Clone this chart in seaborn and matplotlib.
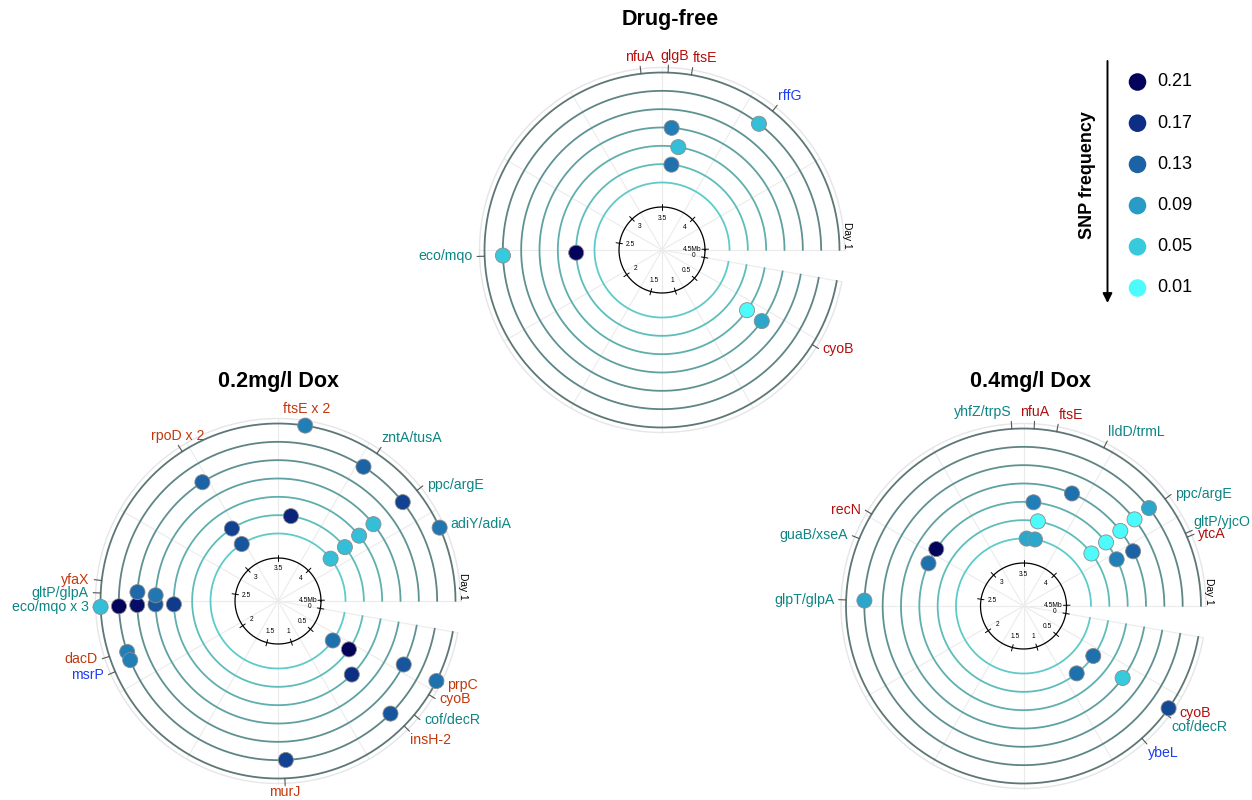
import numpy as np
import matplotlib
matplotlib.use("Agg")
import matplotlib.pyplot as plt
from matplotlib.colors import LinearSegmentedColormap, to_rgb
import seaborn as sns

sns.set_theme(style="white")
plt.rcParams["font.family"] = ["Liberation Sans", "DejaVu Sans"]
plt.rcParams["text.color"] = "black"

W, H, DPI = 1252, 800, 100

# ---------------------------------------------------------------- genome ruler
# genome coordinate (Mb) and the angle (deg, counter-clockwise from east) it sits at
ruler_mb = [0, 0.5, 1, 1.5, 2, 2.5, 3, 3.5, 4, 4.5, 4.64]
ruler_deg = [-10, -41, -72, -105, -145, -189, -226, -270, -315, -359, -370]
ruler_labels = ["0", "0.5", "1", "1.5", "2", "2.5", "3", "3.5", "4", "4.5Mb"]

days = [1, 2, 3, 4, 5, 6, 7]          # Day 1 is the outermost ring

# ---------------------------------------------------------------- SNP data
free_pos = [3.917, 3.55, 3.60, 3.57, 2.377, 2.375, 0.408, 0.411]
free_day = [2, 4, 5, 6, 6, 2, 5, 4]
free_freq = [0.06, 0.11, 0.06, 0.12, 0.21, 0.05, 0.01, 0.08]

low_pos = [3.598, 3.861, 4.075, 4.234, 3.131, 3.131, 3.596, 3.131,
           4.07, 4.07, 4.07, 4.07, 2.376, 2.376, 2.379, 2.38, 2.377,
           2.439, 2.428, 2.186, 2.15, 0.416, 0.392, 0.563, 0.271, 0.271,
           0.565, 1.23]
low_day = [1, 2, 2, 1, 3, 6, 6, 7,
           4, 5, 6, 7, 1, 2, 3, 4, 5,
           3, 4, 2, 2, 7, 6, 5, 3, 1,
           2, 2]
low_freq = [0.11, 0.13, 0.155, 0.115, 0.13, 0.155, 0.18, 0.14,
            0.06, 0.06, 0.06, 0.06, 0.06, 0.21, 0.20, 0.14, 0.16,
            0.125, 0.115, 0.11, 0.11, 0.12, 0.21, 0.17, 0.14, 0.12,
            0.14, 0.155]

high_pos = [3.759, 3.561, 3.607, 3.53, 3.609, 4.08, 4.08, 4.082, 4.084,
            4.083, 4.21, 4.209, 2.826, 2.705, 2.42, 0.413, 0.673, 0.419,
            0.406]
high_day = [4, 5, 6, 7, 7, 2, 3, 4, 5,
            6, 4, 5, 5, 5, 2, 6, 6, 4,
            1]
high_freq = [0.12, 0.11, 0.01, 0.08, 0.08, 0.08, 0.01, 0.01, 0.01,
             0.01, 0.13, 0.11, 0.21, 0.12, 0.08, 0.12, 0.12, 0.05,
             0.15]

# ---------------------------------------------------------------- gene labels
free_lab = ["nfuA", "glgB", "ftsE", "rffG", "eco/mqo", "cyoB"]
free_lab_pos = [3.423, 3.522, 3.606, 3.928, 2.375, 0.358]
free_lab_kind = ["r", "r", "r", "b", "t", "r"]

low_lab = ["rpoD x 2", "ftsE x 2", "zntA/tusA", "ppc/argE", "adiY/adiA",
           "yfaX", "gltP/glpA", "eco/mqo x 3", "dacD", "msrP", "murJ",
           "prpC", "cyoB", "cof/decR", "insH-2"]
low_lab_pos = [3.129, 3.60, 3.876, 4.074, 4.234, 2.473, 2.427, 2.376,
               2.191, 2.131, 1.239, 0.271, 0.352, 0.482, 0.56]
low_lab_kind = ["r", "r", "t", "t", "t", "r", "t", "t", "r", "b", "r",
                "r", "r", "t", "r"]

high_lab = ["yhfZ/trpS", "nfuA", "ftsE", "lldD/trmL", "ppc/argE",
            "gltP/yjcO", "ytcA", "recN", "guaB/xseA", "glpT/glpA", "cyoB",
            "cof/decR", "ybeL"]
high_lab_pos = [3.457, 3.538, 3.62, 3.799, 4.09, 4.237, 4.252, 2.80, 2.68,
                2.42, 0.406, 0.439, 0.616]
high_lab_kind = ["t", "r", "r", "t", "t", "t", "r", "r", "t", "t", "r",
                 "t", "b"]

# text placement around each label tick (plotly-like textposition codes)
free_anchor = ["tc", "tc>", "tr", "tr", "ml", "mr"]
low_anchor = ["tc", "tc", "tr", "mr", "mr", "ml", "ml", "ml", "ml", "ml",
              "bc", "mr", "mr", "mr", "br"]
high_anchor = ["tl", "tc", "tr", "tr", "mr", "tr", "mr", "ml", "ml", "ml",
               "mr", "br", "br"]

legend_freq = [0.21, 0.17, 0.13, 0.09, 0.05, 0.01]

# ---------------------------------------------------------------- styling
snp_cmap = LinearSegmentedColormap.from_list(
    "snp", [(0.0, "#4dfbfd"), (0.2, "#37cadc"), (0.4, "#2a9ac7"),
            (0.6, "#1b63a5"), (0.8, "#0c2f85"), (1.0, "#03035c")])
FREQ_NORM = (0.01, 0.21)

R_OUT, R_STEP = 177.5, 18.33
R_EDGE = 182.5
R_RULER = 43


def ring_r(day):
    return R_OUT - (np.asarray(day, dtype=float) - 1) * R_STEP


def theta(mb):
    return np.radians(np.interp(mb, ruler_mb, ruler_deg))


c_in, c_out = np.array(to_rgb("#5ecbc9")), np.array(to_rgb("#5e7676"))
ring_colors = {d: tuple(c_in + (c_out - c_in) * (7 - d) / 6) for d in days}

ANCHORS = {
    "tc": ((0, 1), "center", "bottom"),
    "tc>": ((4.5, 1), "center", "bottom"),
    "tr": ((0, 1), "left", "bottom"),
    "tl": ((0, 1), "right", "bottom"),
    "mr": ((2.5, 0), "left", "center"),
    "ml": ((-2.5, 0), "right", "center"),
    "bc": ((0, 1.5), "center", "top"),
    "br": ((0, -1), "left", "top"),
}


def draw_panel(ax, pos, day, freq, labels, lab_pos, lab_kind, anchors,
               red):
    kind_color = {"r": red, "t": "#0e8585", "b": "#1f3df5"}
    ax.set_axis_off()
    sector = np.radians(np.linspace(0, 350, 600))

    # faint angular grid and sector edges
    for a in list(range(30, 360, 30)) + [0, 350]:
        ax.plot([np.radians(a)] * 2, [0, R_EDGE], color="#ebebeb", lw=0.8,
                zorder=1, clip_on=False)
    ax.plot(sector, np.full_like(sector, R_EDGE), color="#e6e6e6", lw=1.0,
            zorder=1, clip_on=False)

    # day rings
    for d in days:
        ax.plot(sector, np.full_like(sector, ring_r(d)), color=ring_colors[d],
                lw=1.3, zorder=2, clip_on=False)

    # genome ruler in the middle
    full = np.linspace(0, 2 * np.pi, 400)
    ax.plot(full, np.full_like(full, R_RULER), color="black", lw=0.9,
            zorder=3)
    for mb, lab in zip(ruler_mb[:-1], ruler_labels):
        t = theta(mb)
        ax.plot([t, t], [R_RULER - 3, R_RULER + 3.5], color="black", lw=0.7,
                zorder=3)
        if lab.endswith("Mb"):
            ax.text(t, R_RULER - 3.5, lab, fontsize=4.8, ha="right",
                    va="center", zorder=3)
        else:
            ax.text(t, R_RULER - 11, lab, fontsize=4.8, ha="center",
                    va="center", zorder=3)

    ax.text(np.radians(4.5), 186, "Day 1", rotation=-90, fontsize=7.4,
            ha="center", va="center", clip_on=False)

    # gene labels with small outward ticks
    for txt, mb, kind, anc in zip(labels, lab_pos, lab_kind, anchors):
        t = theta(mb)
        ax.plot([t, t], [R_OUT, 185], color="#555555", lw=0.8, zorder=4,
                clip_on=False)
        off, ha, va = ANCHORS[anc]
        ax.annotate(txt, xy=(t, 186), xytext=off, textcoords="offset points",
                    ha=ha, va=va, fontsize=10.2, color=kind_color[kind],
                    annotation_clip=False, zorder=4)

    # SNPs
    sns.scatterplot(x=theta(pos), y=ring_r(day), hue=freq, palette=snp_cmap,
                    hue_norm=FREQ_NORM, s=118, edgecolor="#8c8c8c",
                    linewidth=0.6, legend=False, ax=ax, zorder=5,
                    clip_on=False)
    ax.set_ylim(0, 200)
    ax.set_xlabel("")
    ax.set_ylabel("")


fig = plt.figure(figsize=(W / DPI, H / DPI), dpi=DPI)


def polar_axes(cx, cy, half=200):
    return fig.add_axes([(cx - half) / W, 1 - (cy + half) / H,
                         2 * half / W, 2 * half / H], projection="polar")


panels = [
    ((662, 250), free_pos, free_day, free_freq, free_lab, free_lab_pos,
     free_lab_kind, free_anchor, "#b30f0f"),
    ((278, 601), low_pos, low_day, low_freq, low_lab, low_lab_pos,
     low_lab_kind, low_anchor, "#c2380d"),
    ((1023.5, 606), high_pos, high_day, high_freq, high_lab, high_lab_pos,
     high_lab_kind, high_anchor, "#b30f0f"),
]
for (cx, cy), *rest in panels:
    draw_panel(polar_axes(cx, cy), *rest)

# titles
for txt, x, y in [("Drug-free", 670, 20), ("0.2mg/l Dox", 279, 381),
                  ("0.4mg/l Dox", 1031, 381)]:
    fig.text(x / W, 1 - y / H, txt, fontsize=15.5, fontweight="bold",
             ha="center", va="center", color="black")

# frequency legend
lax = fig.add_axes([0, 0, 1, 1])
lax.set_xlim(0, W)
lax.set_ylim(H, 0)
lax.set_axis_off()
lax.patch.set_alpha(0)
lax.annotate("", xy=(1107.5, 303), xytext=(1107.5, 61),
             arrowprops=dict(arrowstyle="-|>", color="black", lw=1.4,
                             mutation_scale=14, shrinkA=0, shrinkB=0))
lax.text(1088, 175, "SNP frequency", rotation=90, fontsize=13,
         fontweight="bold", ha="center", va="center", color="black")
leg_y = np.linspace(82, 288, len(legend_freq))
sns.scatterplot(x=np.full(len(legend_freq), 1137.5), y=leg_y,
                hue=legend_freq, palette=snp_cmap, hue_norm=FREQ_NORM,
                s=160, linewidth=0, legend=False, ax=lax)
for f, y in zip(legend_freq, leg_y):
    lax.text(1157, y, f"{f:.2f}", fontsize=13, ha="left", va="center",
             color="black")
lax.set_xlim(0, W)
lax.set_ylim(H, 0)

fig.savefig("out.png", dpi=DPI)
